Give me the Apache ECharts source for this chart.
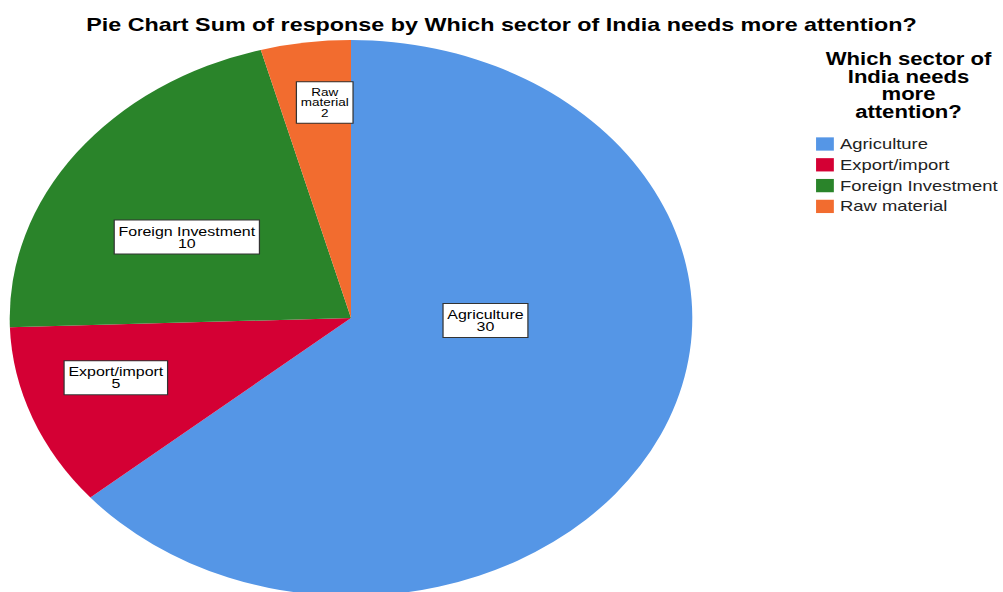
<!DOCTYPE html>
<html>
<head>
<meta charset="utf-8">
<script src="https://cdn.jsdelivr.net/npm/echarts@6/dist/echarts.min.js"></script>
<style>
  html, body { margin: 0; padding: 0; width: 1003px; height: 592px; overflow: hidden; background: #fff; }
  /* the reference is horizontally stretched: draw at 817px and stretch to 1003px */
  #chart { width: 817px; height: 592px; transform: scaleX(1.2277); transform-origin: 0 0; }
</style>
</head>
<body>
<div id="chart"></div>
<script>
const titleText = 'Pie Chart Sum of response by Which sector of India needs more attention?';
const legendTitle = 'Which sector of\nIndia needs\nmore\nattention?';
const categories = ['Agriculture', 'Export/import', 'Foreign Investment', 'Raw material'];
const values = [30, 5, 10, 2];
const colors = ['#5596e6', '#d40034', '#2a842a', '#f26c2f'];

// label anchor positions relative to the pie centre, in units of radius (layout only)
const labelPlacement = [[0.394, 0.009], [-0.689, 0.215], [-0.481, -0.291], [-0.077, -0.775]];

const FONT = '"Liberation Sans", Arial, sans-serif';
const CX = 285.9, CY = 318, R = 278;

const chart = echarts.init(document.getElementById('chart'), null, { renderer: 'svg' });

chart.setOption({
  animation: false,
  backgroundColor: '#fff',
  color: colors,
  title: {
    text: titleText,
    left: 'center',
    top: 15,
    padding: 0,
    textStyle: { fontFamily: FONT, fontSize: 19, fontWeight: 'bold', color: '#000', lineHeight: 19 }
  },
  graphic: [{
    type: 'text',
    x: 740, y: 50,
    style: {
      text: legendTitle,
      align: 'center', verticalAlign: 'top',
      font: 'bold 18px ' + FONT,
      lineHeight: 17.6,
      fill: '#000'
    }
  }],
  legend: {
    orient: 'vertical',
    left: 664.7, top: 136.5,
    padding: 0,
    icon: 'rect',
    itemWidth: 14.5, itemHeight: 13.3, itemGap: 5.8,
    selectedMode: false,
    data: categories,
    textStyle: { fontFamily: FONT, fontSize: 15, lineHeight: 13.3, height: 13.3, color: '#222' }
  },
  series: [{
    type: 'pie',
    center: [CX, CY],
    radius: R,
    startAngle: 90,
    clockwise: true,
    avoidLabelOverlap: false,
    emphasis: { disabled: true },
    itemStyle: { borderWidth: 0 },
    label: {
      show: true,
      position: 'inside',
      formatter: function (p) {
        const name = p.percent < 5 ? p.name.replace(' ', '\n') : p.name;
        return name + '\n' + p.value;
      },
      color: '#000',
      fontFamily: FONT,
      fontSize: 13,
      lineHeight: 12,
      backgroundColor: '#fff',
      borderColor: '#333',
      borderWidth: 1,
      padding: [5, 3, 4, 3],
      align: 'center'
    },
    labelLine: { show: false },
    labelLayout: function (params) {
      const pl = labelPlacement[params.dataIndex];
      return { x: CX + pl[0] * R, y: CY + pl[1] * R, align: 'center', verticalAlign: 'middle' };
    },
    data: categories.map(function (c, i) {
      const item = { name: c, value: values[i] };
      if (values[i] / values.reduce(function (a, b) { return a + b; }, 0) < 0.05) {
        item.label = { fontSize: 11, lineHeight: 10.5, padding: [5, 3, 4, 3] };
      }
      return item;
    })
  }]
});
</script>
</body>
</html>
